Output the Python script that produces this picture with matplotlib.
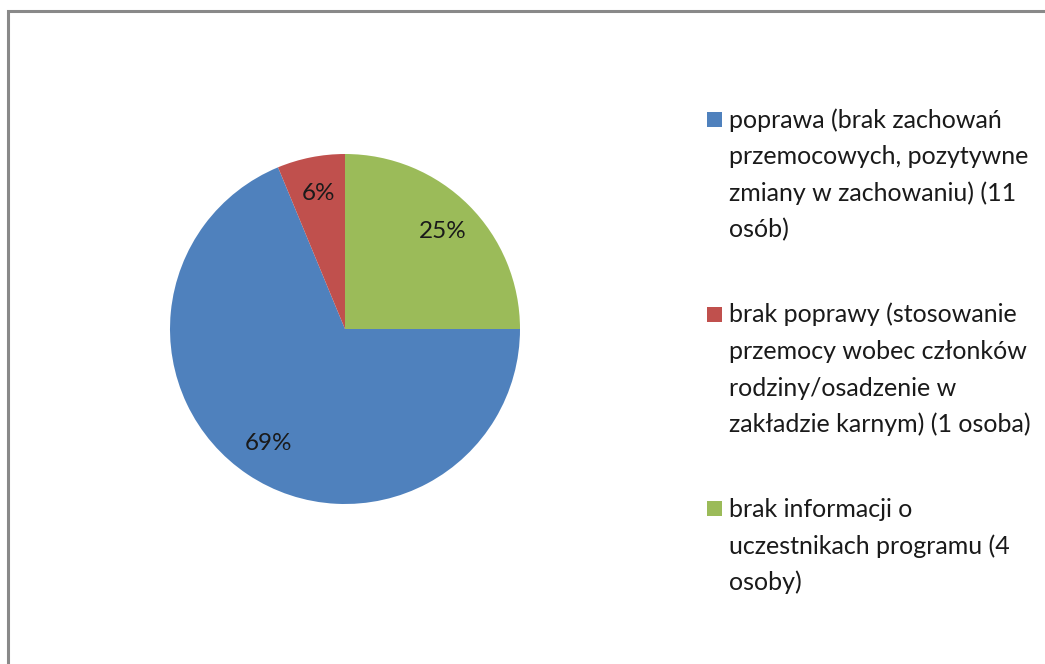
import matplotlib.pyplot as plt
from matplotlib.patches import Rectangle

# data
labels = [
    'poprawa (brak zachowań\nprzemocowych, pozytywne\nzmiany w zachowaniu) (11\nosób)',
    'brak poprawy (stosowanie\nprzemocy wobec członków\nrodziny/osadzenie w\nzakładzie karnym) (1 osoba)',
    'brak informacji o\nuczestnikach programu (4\nosoby)',
]
counts = [11, 1, 4]
colors = ['#4F81BD', '#C0504D', '#9BBB59']

plt.rcParams['font.family'] = ['Lato', 'DejaVu Sans']

W, H = 1045, 664
fig = plt.figure(figsize=(W / 100, H / 100), dpi=100)

# grey frame (left and top edges visible)
fig.patches.append(Rectangle((8 / W, -0.01), 1.1, (H - 11) / H + 0.01,
                             transform=fig.transFigure, fill=False,
                             edgecolor='#898989', linewidth=2.2))

cx, cy, r = 345, 329, 175
ax = fig.add_axes([(cx - r) / W, (H - cy - r) / H, 2 * r / W, 2 * r / H])
wedges, texts, autotexts = ax.pie(
    counts, colors=colors, startangle=0, counterclock=False,
    autopct='%1.0f%%', pctdistance=0.79, radius=1,
    textprops={'fontsize': 17.5, 'color': '#1a1a1a'})
ax.set_xlim(-1, 1)
ax.set_ylim(-1, 1)
ax.set_aspect('equal')
ax.axis('off')

# legend: square aligned with the first line of each entry
pitch = 36.5      # px between lines
gap = 48.5        # px between entries
base = 128        # baseline of first line (px from top)
for lab, w in zip(labels, wedges):
    lines = lab.split('\n')
    fig.patches.append(Rectangle((707 / W, 1 - (base - 1) / H), 15 / W, 15 / H,
                                 transform=fig.transFigure,
                                 facecolor=w.get_facecolor(), edgecolor='none'))
    for i, ln in enumerate(lines):
        fig.text(729 / W, 1 - (base + i * pitch) / H, ln, fontsize=18,
                 color='#1a1a1a', va='baseline', ha='left')
    base += len(lines) * pitch + gap

fig.savefig('out.png', dpi=100, facecolor='white')
